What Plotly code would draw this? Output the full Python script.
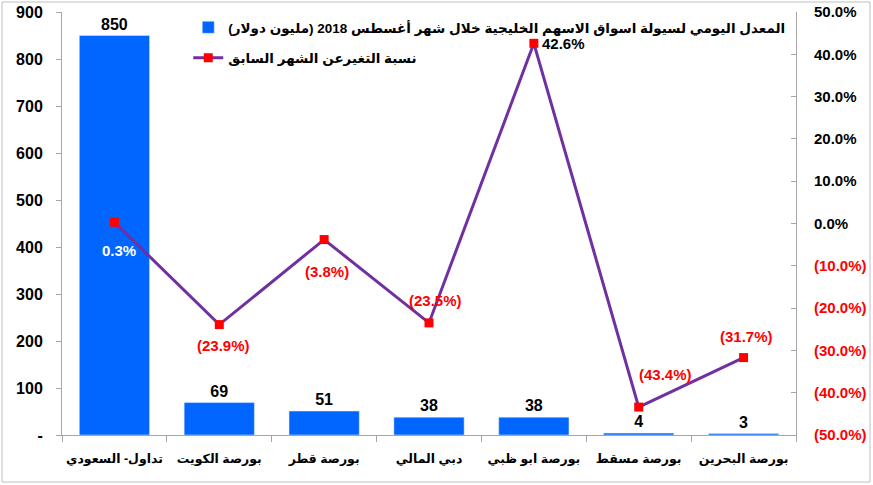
import plotly.graph_objects as go

markets = ['تداول- السعودي', 'بورصة الكويت', 'بورصة قطر', 'دبي المالي',
           'بورصة ابو ظبي', 'بورصة مسقط', 'بورصة البحرين']
liquidity = [850, 69, 51, 38, 38, 4, 3]
change_pct = [0.3, -23.9, -3.8, -23.5, 42.6, -43.4, -31.7]

bar_name = 'المعدل اليومي لسيولة اسواق الاسهم الخليجية خلال شهر أغسطس 2018 (مليون دولار)'
line_name = 'نسبة التغيرعن الشهر السابق'

FONT = 'Liberation Sans, Arial, DejaVu Sans'


def pct_label(v):
    if v < 0:
        return '<b>(%.1f%%)</b>' % abs(v)
    return '<b>%.1f%%</b>' % v


def pct_tick(v):
    if v < 0:
        return '<span style="color:red">' + pct_label(v) + '</span>'
    return pct_label(v)


pct_colors = ['white', 'red', 'red', 'red', 'black', 'red', 'red']
# label offsets (px) relative to each point
pct_dx = [5, 4, 3, 6, 30, 27, 3]
pct_dy = [-28, -21, -32, 22, 0, 33, 21]
pct_ticks = [50, 40, 30, 20, 10, 0, -10, -20, -30, -40, -50]

fig = go.Figure()

fig.add_trace(go.Bar(
    x=markets,
    y=liquidity,
    name='<b>' + bar_name + '</b>',
    marker_color='#0066FF',
    width=0.67,
    text=['<b>%d</b>' % v for v in liquidity],
    textposition='outside',
    textfont=dict(size=16, color='black', family=FONT),
    cliponaxis=False,
    legendgroup='a',
    yaxis='y'
))

fig.add_trace(go.Scatter(
    x=markets,
    y=change_pct,
    name='<b>' + line_name + '</b>',
    mode='lines+markers',
    line=dict(color='#7030A0', width=3),
    marker=dict(symbol='square', size=9, color='#FF0000'),
    cliponaxis=False,
    legendgroup='b',
    yaxis='y2'
))

for m, v, c, dx, dy in zip(markets, change_pct, pct_colors, pct_dx, pct_dy):
    fig.add_annotation(
        x=m, y=v, xref='x', yref='y2',
        text=pct_label(v), showarrow=False,
        xshift=dx, yshift=dy,
        font=dict(size=15, color=c, family=FONT),
    )

fig.update_layout(
    width=873,
    height=485,
    plot_bgcolor='white',
    paper_bgcolor='white',
    font=dict(family=FONT, size=14, color='black'),
    xaxis=dict(
        showline=True, linecolor='#A6A6A6', linewidth=1,
        ticks='outside', tickson='boundaries', ticklen=6, tickcolor='#A6A6A6',
        showgrid=False, automargin=False, tickangle=0,
        tickvals=markets,
        ticktext=['<b>' + m + '</b>' for m in markets],
        tickfont=dict(size=12.5, family=FONT),
        ticklabelstandoff=12,
        ticklabeloverflow='allow',
    ),
    yaxis=dict(
        range=[0, 900], automargin=False,
        tickvals=[0, 100, 200, 300, 400, 500, 600, 700, 800, 900],
        ticktext=['<b>-</b>'] + ['<b>%d</b>' % v for v in range(100, 1000, 100)],
        showline=True, linecolor='#A6A6A6', linewidth=1,
        ticks='outside', ticklen=5, tickcolor='#A6A6A6',
        showgrid=False, zeroline=False,
        tickfont=dict(size=16, family=FONT),
        ticklabelstandoff=10,
        ticklabeloverflow='allow',
    ),
    yaxis2=dict(
        range=[-50, 50], overlaying='y', side='right', automargin=False,
        tickvals=pct_ticks,
        ticktext=[pct_tick(v) for v in pct_ticks],
        showline=True, linecolor='#A6A6A6', linewidth=1,
        ticks='inside', ticklen=5, tickcolor='#A6A6A6',
        showgrid=False, zeroline=False,
        tickfont=dict(size=15, family=FONT),
        ticklabelstandoff=14,
        ticklabeloverflow='allow',
    ),
    legend=dict(
        x=0.172, y=1.0, xanchor='left', yanchor='top',
        bgcolor='rgba(0,0,0,0)',
        font=dict(size=13.5, family=FONT),
        traceorder='grouped', tracegroupgap=10,
    ),
    showlegend=True,
    margin=dict(l=62, r=77, t=12, b=50),
)

# thin grey frame around the chart
fig.add_shape(type='rect', xref='paper', yref='paper',
              x0=-60 / 734, x1=1 + 74 / 734, y0=-47 / 423, y1=1 + 10 / 423,
              line=dict(color='#BFBFBF', width=1), layer='below')

# drop the default page margin so the figure sits at the window corner
fig.write_html('out.html', config={'displayModeBar': False},
               post_script="document.body.style.margin='0';")
